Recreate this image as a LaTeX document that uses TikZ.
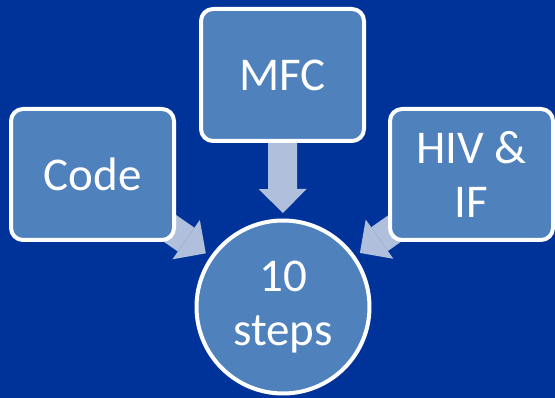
\documentclass[tikz,border=0pt]{standalone}
\usepackage{fontspec}
\setmainfont{Carlito}
\usetikzlibrary{arrows.meta,calc}
\pgfdeclarelayer{bglayer}
\pgfdeclarelayer{arrowlayer}
\pgfsetlayers{bglayer,arrowlayer,main}
\definecolor{bgblue}{RGB}{0,51,153}
\definecolor{boxfill}{RGB}{79,129,189}
\definecolor{arrowfill}{RGB}{176,192,220}
\begin{document}
\begin{tikzpicture}[x=1pt,y=-1pt,
  textstyle/.style={text=white, font=\fontsize{47}{54}\selectfont, align=center, inner sep=0pt},
  box/.style={textstyle, draw=white, line width=4pt, fill=boxfill, rounded corners=12pt,
    minimum width=163pt, minimum height=131pt},
  hub/.style={textstyle, circle, draw=white, line width=4pt, fill=boxfill, minimum size=173pt},
  bigarrow/.style={draw=arrowfill, line width=29pt,
    -{Triangle[width=48pt,length=24pt,line width=0pt]}, shorten >=94pt}
]
\begin{pgfonlayer}{bglayer}
\fill[bgblue] (0,0) rectangle (555,398);
\end{pgfonlayer}
\useasboundingbox (0,0) rectangle (555,398);
\node[box] (code) at (92.5,174.5) {Code};
\node[box, minimum height=132pt] (mfc) at (282.5,75) {MFC};
\node[box] (hiv) at (471.5,174.5) {HIV \&\\IF};
\node[hub] (hub) at (283,307) {10\\steps};
\begin{pgfonlayer}{arrowlayer}
\draw[bigarrow] (code.center) -- (hub.center);
\draw[bigarrow] (mfc.center) -- (hub.center);
\draw[bigarrow] (hiv.center) -- (hub.center);
\end{pgfonlayer}
\end{tikzpicture}
\end{document}
